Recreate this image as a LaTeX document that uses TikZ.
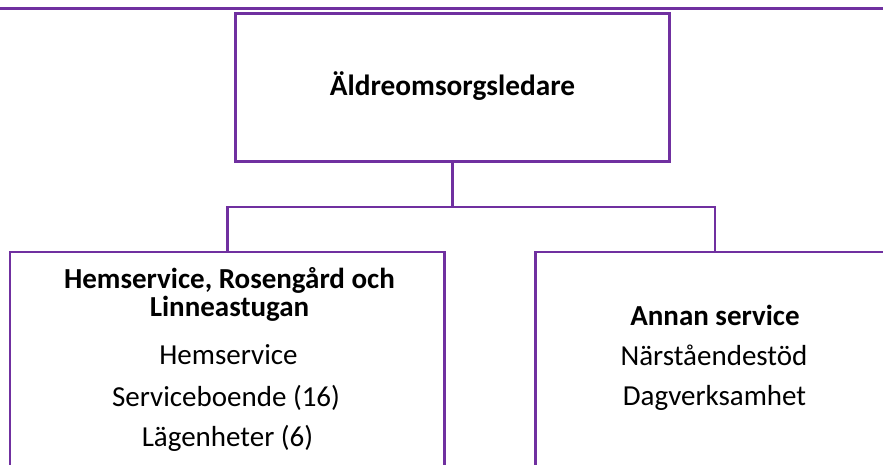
\documentclass[tikz,border=0pt]{standalone}
\usepackage{fontspec}
\setmainfont{Carlito}
\definecolor{purp}{HTML}{7030A0}
\begin{document}
\begin{tikzpicture}[x=1pt,y=-1pt,
  boxline/.style={draw=purp, line width=2.2pt, inner sep=0pt, fill=none},
  conn/.style={draw=purp, line width=2.2pt},
  head/.style={anchor=base, inner sep=0pt, font=\fontsize{29}{34}\selectfont\bfseries},
  body/.style={anchor=base, inner sep=0pt, font=\fontsize{29}{34}\selectfont},
  title/.style={anchor=base, inner sep=0pt, font=\fontsize{29.3}{34}\selectfont\bfseries}]
\useasboundingbox (0,0) rectangle (883,464);
\clip (0,0) rectangle (883,464);
\fill[white] (0,0) rectangle (883,464);
% top rule
\coordinate (rl) at (0,8.5);
\coordinate (rr) at (883,8.5);
\draw[purp, line width=3.2pt] (rl) -- (rr);
% boxes
\node[boxline, minimum width=434pt, minimum height=148pt] (top) at (452.5,87.5) {};
\node[boxline, minimum width=434.2pt, minimum height=268pt] (left) at (227.4,386) {};
\node[boxline, minimum width=359pt, minimum height=268pt] (right) at (715,386) {};
% connectors
\coordinate (j) at (452.5,207.3);
\draw[conn] (top.south) -- (j);
\draw[conn] (left.north) |- (j) -| (right.north);
% texts
\node[title] (t0) at (452.5,95) {Äldreomsorgsledare};
\node[head] (l1) at (229.5,288) {Hemservice, Rosengård och};
\node[head] (l2) at (229.5,316) {Linneastugan};
\node[body] (l3) at (228.5,364) {Hemservice};
\node[body] (l4) at (226,406) {Serviceboende (16)};
\node[body] (l5) at (227.5,446) {Lägenheter (6)};
\node[head] (r1) at (715,325) {Annan service};
\node[body] (r2) at (714,365) {Närståendestöd};
\node[body] (r3) at (714.5,405) {Dagverksamhet};
\end{tikzpicture}
\end{document}
